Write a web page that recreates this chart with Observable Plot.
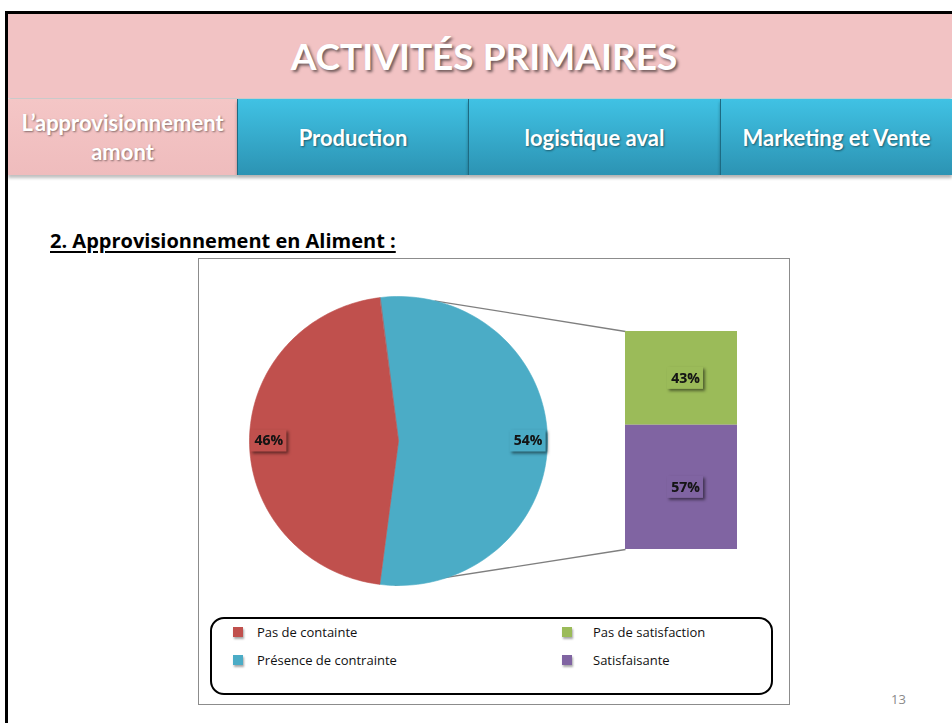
<!DOCTYPE html>
<html>
<head>
<meta charset="utf-8">
<script src="https://cdn.jsdelivr.net/npm/d3@7"></script>
<script src="https://cdn.jsdelivr.net/npm/@observablehq/plot@0.6"></script>
<style>
  html, body { margin: 0; padding: 0; }
  body { width: 952px; height: 723px; position: relative; overflow: hidden; background: #fff; font-family: Lato, "Open Sans", sans-serif; }
  .abs { position: absolute; }
  #frameL { left: 5px; top: 11px; width: 3px; height: 712px; background: #000; }
  #frameT { left: 5px; top: 11px; width: 947px; height: 3px; background: #000; }
  #head { left: 8px; top: 14px; width: 944px; height: 84px; background: #f2c3c4; box-shadow: 0 2px 3px rgba(0,0,0,0.25); }
  #title { left: 8px; top: 14px; width: 952px; height: 84px; line-height: 84px; text-align: center; color: #fff; font-weight: 700; font-size: 37px; text-shadow: 2px 2px 3px rgba(0,0,0,0.55); }
  .tab { top: 99px; height: 76px; display: flex; align-items: center; justify-content: center; text-align: center; color: #fff; font-weight: 700; font-size: 22px; line-height: 29px; text-shadow: 1px 1px 2px rgba(0,0,0,0.45); box-sizing: border-box; white-space: nowrap; }
  .blue { background: linear-gradient(#40c2e4, #2c93b3); border-left: 1px solid #1d6a82; box-shadow: 0 3px 3px rgba(0,0,0,0.3); }
  .pink { background: linear-gradient(#f4c6c6, #efbcbd); box-shadow: 0 3px 3px rgba(0,0,0,0.25); }
  #heading { left: 50px; top: 227px; font-family: "Open Sans", sans-serif; font-weight: 700; font-size: 20px; color: #000; text-decoration: underline; text-decoration-thickness: 2px; text-underline-offset: 3px; white-space: nowrap; }
  #box { left: 198px; top: 258px; width: 590px; height: 445px; border: 1px solid #8c8c8c; background: #fff; }
  #plot { left: 0; top: 0; }
  #legend { left: 11px; top: 358px; width: 559px; height: 74px; border: 2px solid #000; border-radius: 14px; font-family: "Open Sans", sans-serif; font-size: 13px; color: #111; }
  .li { position: absolute; display: flex; align-items: center; white-space: nowrap; }
  .sw { width: 10px; height: 10px; box-shadow: 1px 2px 2px rgba(0,0,0,0.35); }
  #pagenum { left: 891px; top: 690px; font-size: 13px; color: #8a8a8a; font-family: "Open Sans", sans-serif; }
</style>
</head>
<body>
<div id="frameL" class="abs"></div>
<div id="frameT" class="abs"></div>
<div id="head" class="abs"></div>
<div id="title" class="abs"></div>
<div id="tabs"></div>
<div id="heading" class="abs"></div>
<div id="box" class="abs">
  <div id="plot" class="abs"></div>
  <div id="legend" class="abs"></div>
</div>
<div id="pagenum" class="abs"></div>
<script>
// ---- Data ----
const slideTitle = "ACTIVITÉS PRIMAIRES";
const tabLabels = ["L’approvisionnement<br>amont", "Production", "logistique aval", "Marketing et Vente"];
const sectionTitle = "2. Approvisionnement en Aliment :";
const pageNumber = "13";

const pieCategories = ["Présence de contrainte", "Pas de containte"];
const pieValues = [54, 46];
const pieColors = ["#4bacc6", "#c0504d"];

const barCategories = ["Pas de satisfaction", "Satisfaisante"];
const barValues = [43, 57];
const barColors = ["#9bbb59", "#8064a2"];

const legendCategories = ["Pas de containte", "Présence de contrainte", "Pas de satisfaction", "Satisfaisante"];
const legendColors = ["#c0504d", "#4bacc6", "#9bbb59", "#8064a2"];

// ---- Header ----
document.getElementById("title").textContent = slideTitle;
const tabGeom = [[8, 229, "pink"], [237, 231, "blue"], [468, 252, "blue"], [720, 232, "blue"]];
const tabsDiv = document.getElementById("tabs");
tabLabels.forEach((t, i) => {
  const d = document.createElement("div");
  d.className = "abs tab " + tabGeom[i][2];
  d.style.left = tabGeom[i][0] + "px";
  d.style.width = tabGeom[i][1] + "px";
  d.innerHTML = t;
  tabsDiv.appendChild(d);
});
document.getElementById("heading").textContent = sectionTitle;
document.getElementById("pagenum").textContent = pageNumber;

// ---- Chart ----
const W = 590, H = 352;
const cx = 199, cy = 181.5, rx = 149, ry = 144.5;
const barX1 = 426, barX2 = 538, barTop = 72, barBottom = 290;

const pieTotal = d3.sum(pieValues);
const startA = Math.PI / 2 - (pieValues[0] / pieTotal) * Math.PI;
const arcs = d3.pie().sort(null).startAngle(startA).endAngle(startA + 2 * Math.PI)(pieValues);
const pt = a => ({x: cx + rx * Math.sin(a), y: cy - ry * Math.cos(a)});

const slicePts = [];
arcs.forEach((a, i) => {
  slicePts.push({key: pieCategories[i], color: pieColors[i], x: cx, y: cy});
  const n = 120;
  for (let k = 0; k <= n; k++) {
    const ang = a.startAngle + (a.endAngle - a.startAngle) * k / n;
    slicePts.push({key: pieCategories[i], color: pieColors[i], ...pt(ang)});
  }
});

const barTotal = d3.sum(barValues);
let cum = 0;
const barRows = barValues.map((v, i) => {
  const y1 = barTop + cum / barTotal * (barBottom - barTop);
  cum += v;
  const y2 = barTop + cum / barTotal * (barBottom - barTop);
  return {key: barCategories[i], value: v, color: barColors[i], y1, y2};
});

const labels = [
  ...arcs.map((a, i) => {
    const m = (a.startAngle + a.endAngle) / 2;
    return {text: pieValues[i] + "%", x: cx + 0.87 * rx * Math.sin(m), y: cy - 0.87 * ry * Math.cos(m), color: pieColors[i]};
  }),
  ...barRows.map(r => ({text: r.value + "%", x: (barX1 + barX2) / 2 + 4, y: (r.y1 + r.y2) / 2, color: r.color}))
];

// connector lines from the exploded slice to the bar
const blue = arcs[0];
const cTop = pt(blue.startAngle + 0.05 * (blue.endAngle - blue.startAngle) + 0.2);
const cBot = pt(blue.endAngle - 0.1);
const links = [
  {x1: cTop.x, y1: cTop.y, x2: barX1, y2: barTop},
  {x1: cBot.x, y1: cBot.y, x2: barX1, y2: barBottom}
];

const chart = Plot.plot({
  width: W, height: H,
  margin: 0,
  x: {domain: [0, W], range: [0, W], axis: null},
  y: {domain: [0, H], range: [0, H], axis: null},
  style: {background: "transparent", overflow: "visible"},
  marks: [
    Plot.link(links, {x1: "x1", y1: "y1", x2: "x2", y2: "y2", stroke: "#7f7f7f", strokeWidth: 1.3}),
    Plot.line(slicePts, {x: "x", y: "y", z: "key", fill: "color", stroke: "color", strokeWidth: 0.6, curve: "linear-closed"}),
    Plot.rect(barRows, {x1: barX1, x2: barX2, y1: "y1", y2: "y2", fill: "color"}),
    Plot.rect(labels, {x1: d => d.x - 18, x2: d => d.x + 18, y1: d => d.y - 11, y2: d => d.y + 11, fill: "color"}),
    Plot.text(labels, {x: "x", y: "y", text: "text", fill: "#141414", fontWeight: 700, fontSize: 14, fontFamily: "'Open Sans', sans-serif"})
  ]
});
const rectGroups = d3.select(chart).selectAll('g[aria-label="rect"]').nodes();
d3.select(rectGroups[rectGroups.length - 1]).selectAll("rect").style("filter", "drop-shadow(2px 2px 1.5px rgba(0,0,0,0.5))");
d3.select(chart).selectAll('g[aria-label="text"] text').style("filter", "drop-shadow(0.5px 0.5px 0.5px rgba(0,0,0,0.3))");
document.getElementById("plot").appendChild(chart);

// ---- Legend ----
const legend = document.getElementById("legend");
const legPos = [[21, 5], [21, 33], [350, 5], [350, 33]];
const legTextX = [45, 45, 381, 381];
legendCategories.forEach((c, i) => {
  const d = document.createElement("div");
  d.className = "li";
  d.style.left = legPos[i][0] + "px";
  d.style.top = legPos[i][1] + "px";
  d.style.height = "16px";
  d.innerHTML = `<span class="sw" style="background:${legendColors[i]};margin-right:${legTextX[i] - legPos[i][0] - 10}px"></span><span>${c}</span>`;
  legend.appendChild(d);
});
</script>
</body>
</html>
